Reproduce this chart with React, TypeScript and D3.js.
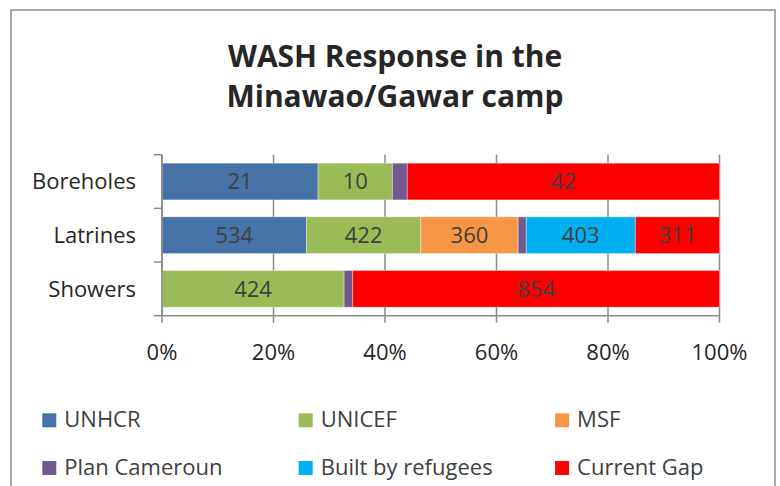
import React from "react";
import * as d3 from "d3";

const categories = ["Boreholes", "Latrines", "Showers"];
const seriesNames = ["UNHCR", "UNICEF", "MSF", "Plan Cameroun", "Built by refugees", "Current Gap"];
const seriesColors = ["#4572A7", "#9BBB59", "#F79646", "#725A91", "#00B0F0", "#FF0000"];
const unhcr = [21, 534, 0];
const unicef = [10, 422, 424];
const msf = [0, 360, 0];
const planCameroun = [2, 30, 20];
const builtByRefugees = [0, 403, 0];
const currentGap = [42, 311, 854];
const showLabel = [true, true, true, false, true, true];
const tickValues = [0, 0.2, 0.4, 0.6, 0.8, 1];

const W = 780;
const H = 486;
const FONT = "'Open Sans', sans-serif";
const plot = { left: 162, right: 719.5, top: 154.7, bottom: 315.7 };

export default function App() {
  const seriesValues = [unhcr, unicef, msf, planCameroun, builtByRefugees, currentGap];
  const rows = categories.map((c, i) => {
    const obj: any = { category: c };
    seriesNames.forEach((s, j) => (obj[s] = seriesValues[j][i]));
    return obj;
  });
  const stack = d3.stack<any>().keys(seriesNames).offset(d3.stackOffsetExpand);
  const stacked = stack(rows);

  const x = d3.scaleLinear().domain([0, 1]).range([plot.left, plot.right]);
  const y = d3
    .scaleBand()
    .domain(categories)
    .range([plot.top, plot.bottom])
    .paddingInner(0.316)
    .paddingOuter(0.158);

  const gridColor = "#8a8a8a";
  const step = y.step();
  const catTicks = d3.range(categories.length + 1).map((i) => plot.top + i * step);

  return (
    <svg width={W} height={H} style={{ position: "absolute", left: 0, top: 0, display: "block" }}>
      <rect x={0} y={0} width={W} height={H} fill="#fff" />
      <rect x={11} y={10} width={764} height={520} fill="#fff" stroke="#8c8c8c" strokeWidth={1.5} />

      <text fontFamily={FONT} fontWeight={700} fontSize={30} fill="#262626" textAnchor="middle">
        <tspan x={395} y={66.7}>WASH Response in the</tspan>
        <tspan x={395} y={107.3}>Minawao/Gawar camp</tspan>
      </text>

      {/* vertical gridlines + ticks */}
      {tickValues.map((t) => (
        <line
          key={"g" + t}
          x1={x(t)}
          x2={x(t)}
          y1={plot.top}
          y2={plot.bottom + 7}
          stroke={gridColor}
          strokeWidth={1.5}
        />
      ))}
      {/* bottom axis */}
      <line x1={plot.left} x2={plot.right} y1={plot.bottom} y2={plot.bottom} stroke={gridColor} strokeWidth={1.5} />
      {/* left axis ticks */}
      {catTicks.map((t, i) => (
        <line key={"ct" + i} x1={plot.left - 8} x2={plot.left} y1={t} y2={t} stroke={gridColor} strokeWidth={1.5} />
      ))}

      {/* bars */}
      {stacked.map((layer, si) => (
        <g key={seriesNames[si]}>
          {layer.map((d, ci) => {
            const x0 = x(d[0]);
            const x1 = x(d[1]);
            if (x1 - x0 <= 0) return null;
            return (
              <rect
                key={ci}
                x={x0}
                y={y(categories[ci])!}
                width={x1 - x0}
                height={y.bandwidth()}
                fill={seriesColors[si]}
                stroke="rgba(255,255,255,0.35)"
                strokeWidth={1}
              />
            );
          })}
        </g>
      ))}

      {/* data labels */}
      {stacked.map((layer, si) =>
        showLabel[si]
          ? layer.map((d, ci) => {
              const v = seriesValues[si][ci];
              if (!v) return null;
              return (
                <text
                  key={seriesNames[si] + ci}
                  x={(x(d[0]) + x(d[1])) / 2}
                  y={y(categories[ci])! + y.bandwidth() / 2 + 7.9}
                  textAnchor="middle"
                  fontFamily={FONT}
                  fontSize={22}
                  fill="#404040"
                >
                  {v}
                </text>
              );
            })
          : null
      )}

      {/* left axis line */}
      <line x1={plot.left} x2={plot.left} y1={plot.top} y2={plot.bottom} stroke={gridColor} strokeWidth={1.5} />

      {/* category labels */}
      {categories.map((c) => (
        <text
          key={c}
          x={136}
          y={y(c)! + y.bandwidth() / 2 + 7.9}
          textAnchor="end"
          fontFamily={FONT}
          fontSize={22}
          fill="#262626"
        >
          {c}
        </text>
      ))}

      {/* tick labels */}
      {tickValues.map((t) => (
        <text
          key={"tl" + t}
          x={x(t)}
          y={359.5}
          textAnchor="middle"
          fontFamily={FONT}
          fontSize={22}
          fill="#262626"
        >
          {d3.format(".0%")(t)}
        </text>
      ))}

      {/* legend */}
      {seriesNames.map((s, i) => {
        const col = i % 3;
        const row = Math.floor(i / 3);
        const lx = 42.3 + col * 256.4;
        const base = 427.3 + row * 47.7;
        return (
          <g key={"lg" + s}>
            <rect x={lx} y={base - 14} width={14} height={14} fill={seriesColors[i]} />
            <text x={lx + 22} y={base} fontFamily={FONT} fontSize={22} fill="#404040">
              {s}
            </text>
          </g>
        );
      })}
    </svg>
  );
}
